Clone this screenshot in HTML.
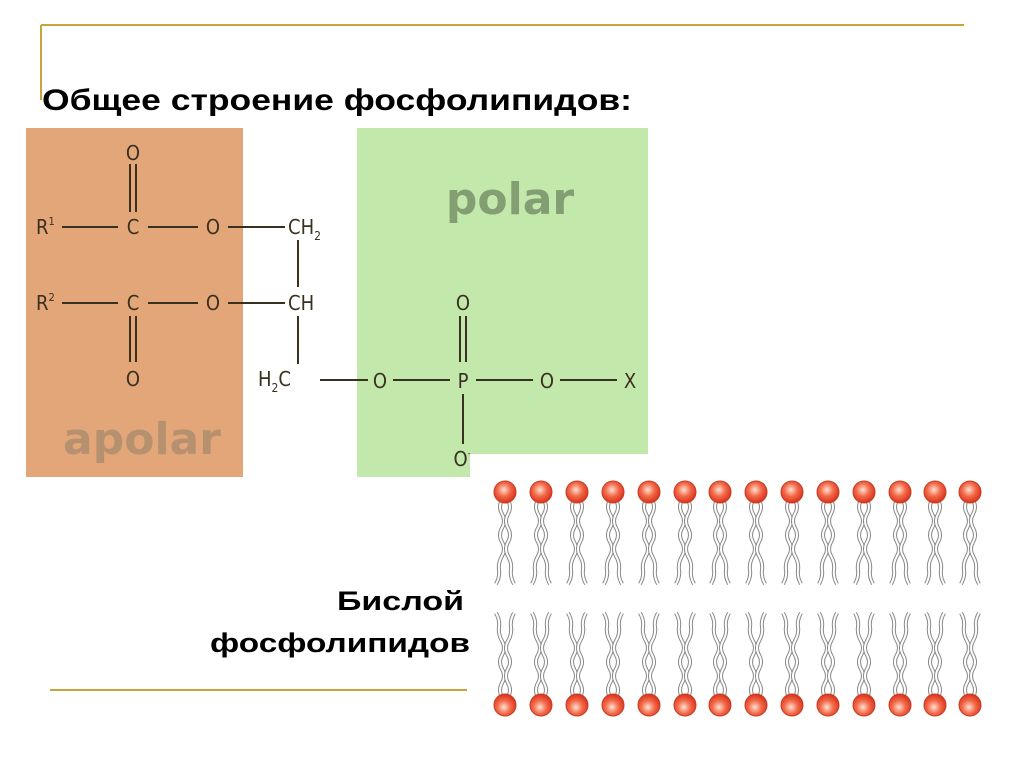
<!DOCTYPE html>
<html><head><meta charset="utf-8"><style>
html,body{margin:0;padding:0;background:#fff;}
svg{display:block}
</style></head><body>
<svg width="1024" height="768" viewBox="0 0 1024 768" xmlns="http://www.w3.org/2000/svg">
<defs>
<radialGradient id="hg" cx="0.45" cy="0.4" r="0.6">
<stop offset="0" stop-color="#fde0d0"/><stop offset="0.5" stop-color="#f36a4a"/><stop offset="1" stop-color="#d8321c"/>
</radialGradient>
<g id="tail">
<path d="M-3,8 q-4,7 0,14 t0,14 t0,14 t0,14 t-3,14 t-3,14" fill="none" stroke="#888" stroke-width="4"/>
<path d="M-3,8 q-4,7 0,14 t0,14 t0,14 t0,14 t-3,14 t-3,14" fill="none" stroke="#fff" stroke-width="2"/>
<path d="M3,8 q4,7 0,14 t0,14 t0,14 t0,14 t3,14 t3,14" fill="none" stroke="#888" stroke-width="4"/>
<path d="M3,8 q4,7 0,14 t0,14 t0,14 t0,14 t3,14 t3,14" fill="none" stroke="#fff" stroke-width="2"/>
<circle r="11" fill="url(#hg)" stroke="#c83a22" stroke-width="1"/>
</g>
</defs>
<line x1="41" y1="25" x2="964" y2="25" stroke="#c9a43c" stroke-width="2"/>
<line x1="41" y1="25" x2="41" y2="100" stroke="#c9a43c" stroke-width="2"/>
<line x1="50" y1="690" x2="467" y2="690" stroke="#c9a43c" stroke-width="2"/>
<text x="42" y="110" font-family="Liberation Sans, sans-serif" font-weight="bold" font-size="30" fill="#000" textLength="590" lengthAdjust="spacingAndGlyphs">Общее  строение  фосфолипидов:</text>

<rect x="26" y="128" width="217" height="349" fill="#e2a679"/>
<rect x="357" y="128" width="291" height="349" fill="#c3e8ac"/>
<text x="142" y="454" text-anchor="middle" font-family="DejaVu Sans, sans-serif" font-weight="bold" font-size="44" fill="#b69170">apolar</text>
<text x="510" y="214" text-anchor="middle" font-family="DejaVu Sans, sans-serif" font-weight="bold" font-size="44" fill="#829e72">polar</text>

<g font-family="DejaVu Sans Condensed, DejaVu Sans, sans-serif" font-size="20" fill="#3a3020">
<text x="36" y="234">R<tspan font-size="11" dy="-9">1</tspan></text>
<text x="36" y="310">R<tspan font-size="11" dy="-9">2</tspan></text>
<text x="133" y="160" text-anchor="middle">O</text>
<text x="133" y="234" text-anchor="middle">C</text>
<text x="133" y="310" text-anchor="middle">C</text>
<text x="133" y="386" text-anchor="middle">O</text>
<text x="213" y="234" text-anchor="middle">O</text>
<text x="213" y="310" text-anchor="middle">O</text>
<text x="288" y="234">CH<tspan font-size="12" dy="6">2</tspan></text>
<text x="288" y="310">CH</text>
<text x="258" y="386">H<tspan font-size="12" dy="6">2</tspan><tspan dy="-6">C</tspan></text>
<text x="380" y="388" text-anchor="middle">O</text>
<text x="463" y="310" text-anchor="middle">O</text>
<text x="463" y="388" text-anchor="middle">P</text>
<text x="547" y="388" text-anchor="middle">O</text>
<text x="630" y="388" text-anchor="middle">X</text>
<text x="462" y="466" text-anchor="middle">O<tspan font-size="9" dy="-10">-</tspan></text>
</g>
<g stroke="#3a3020" stroke-width="2">
<line x1="62" y1="227" x2="118" y2="227"/><line x1="148" y1="227" x2="198" y2="227"/><line x1="228" y1="227" x2="285" y2="227"/>
<line x1="62" y1="303" x2="118" y2="303"/><line x1="148" y1="303" x2="198" y2="303"/><line x1="228" y1="303" x2="285" y2="303"/>
<line x1="130" y1="164" x2="130" y2="212"/><line x1="136" y1="164" x2="136" y2="212"/>
<line x1="130" y1="316" x2="130" y2="362"/><line x1="136" y1="316" x2="136" y2="362"/>
<line x1="298" y1="240" x2="298" y2="287"/><line x1="298" y1="316" x2="298" y2="364"/>
<line x1="320" y1="380" x2="368" y2="380"/><line x1="393" y1="380" x2="450" y2="380"/>
<line x1="476" y1="380" x2="533" y2="380"/><line x1="560" y1="380" x2="617" y2="380"/>
<line x1="460" y1="316" x2="460" y2="362"/><line x1="466" y1="316" x2="466" y2="362"/>
<line x1="463" y1="394" x2="463" y2="444"/>
</g>

<rect x="470" y="454" width="530" height="270" fill="#fff"/>
<g>
<use href="#tail" transform="translate(505,492)"/><use href="#tail" transform="translate(541,492)"/><use href="#tail" transform="translate(577,492)"/><use href="#tail" transform="translate(613,492)"/><use href="#tail" transform="translate(649,492)"/><use href="#tail" transform="translate(685,492)"/><use href="#tail" transform="translate(720,492)"/><use href="#tail" transform="translate(756,492)"/><use href="#tail" transform="translate(792,492)"/><use href="#tail" transform="translate(828,492)"/><use href="#tail" transform="translate(864,492)"/><use href="#tail" transform="translate(900,492)"/><use href="#tail" transform="translate(935,492)"/><use href="#tail" transform="translate(970,492)"/>
<use href="#tail" transform="translate(505,705) scale(1,-1)"/><use href="#tail" transform="translate(541,705) scale(1,-1)"/><use href="#tail" transform="translate(577,705) scale(1,-1)"/><use href="#tail" transform="translate(613,705) scale(1,-1)"/><use href="#tail" transform="translate(649,705) scale(1,-1)"/><use href="#tail" transform="translate(685,705) scale(1,-1)"/><use href="#tail" transform="translate(720,705) scale(1,-1)"/><use href="#tail" transform="translate(756,705) scale(1,-1)"/><use href="#tail" transform="translate(792,705) scale(1,-1)"/><use href="#tail" transform="translate(828,705) scale(1,-1)"/><use href="#tail" transform="translate(864,705) scale(1,-1)"/><use href="#tail" transform="translate(900,705) scale(1,-1)"/><use href="#tail" transform="translate(935,705) scale(1,-1)"/><use href="#tail" transform="translate(970,705) scale(1,-1)"/>
</g>
<g font-family="Liberation Sans, sans-serif" font-weight="bold" font-size="27" fill="#000">
<text x="337" y="610" textLength="127" lengthAdjust="spacingAndGlyphs">Бислой</text>
<text x="210" y="652" textLength="260" lengthAdjust="spacingAndGlyphs">фосфолипидов</text>
</g>
</svg>
</body></html>
